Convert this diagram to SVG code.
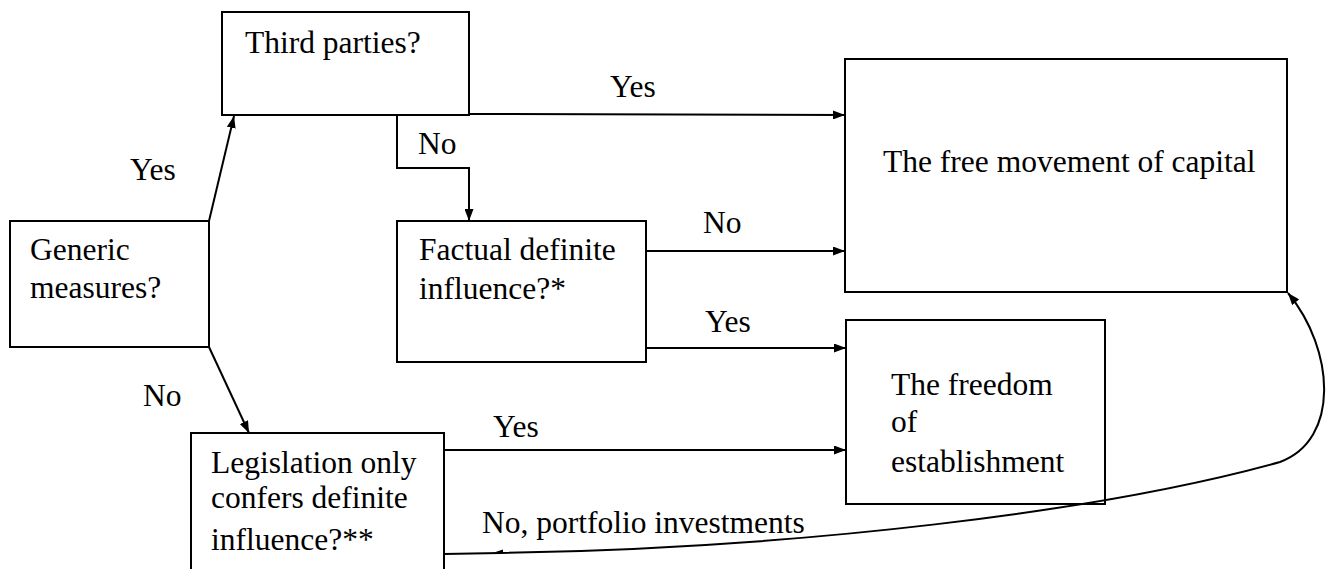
<svg xmlns="http://www.w3.org/2000/svg" width="1327" height="569" viewBox="0 0 1327 569">
<style>
.box{fill:#fff;stroke:#000;stroke-width:2}
.c{fill:none;stroke:#000;stroke-width:2}
</style>
<defs>
<marker id="ah" viewBox="0 0 12 9" refX="12" refY="4.5" markerWidth="12" markerHeight="9" markerUnits="userSpaceOnUse" orient="auto">
<path d="M0,0 L12,4.5 L0,9 Z" fill="#000"/>
</marker>
</defs>
<rect width="1327" height="569" fill="#fff"/>
<g font-family="'Liberation Serif', 'Times New Roman', serif" font-size="31.5" fill="#000">
<g id="third-parties"><rect class="box" x="222" y="12" width="247" height="103"/><text x="245" y="53">Third parties?</text></g>
<g id="generic"><rect class="box" x="10" y="221" width="199" height="126"/><text x="30" y="260">Generic</text><text x="30" y="298">measures?</text></g>
<g id="factual"><rect class="box" x="397" y="221" width="249" height="141"/><text x="419" y="260">Factual definite</text><text x="419" y="299">influence?*</text></g>
<g id="legislation"><rect class="box" x="191" y="433" width="253" height="145"/><text x="211" y="473">Legislation only</text><text x="211" y="508">confers definite</text><text x="211" y="550">influence?**</text></g>
<g id="capital"><rect class="box" x="845" y="59" width="442" height="233"/><text x="883" y="172">The free movement of capital</text></g>
<g id="establishment"><rect class="box" x="846" y="320" width="259" height="184"/><text x="891" y="395">The freedom</text><text x="891" y="432">of</text><text x="891" y="472">establishment</text></g>
<g id="connectors">
<line class="c" x1="209" y1="221" x2="234" y2="116" marker-end="url(#ah)"/>
<line class="c" x1="209" y1="347" x2="249" y2="433" marker-end="url(#ah)"/>
<polyline class="c" points="397,115 397,168 469,168 469,221" marker-end="url(#ah)"/>
<line class="c" x1="469" y1="114" x2="845" y2="115" marker-end="url(#ah)"/>
<line class="c" x1="646" y1="251" x2="845" y2="251" marker-end="url(#ah)"/>
<line class="c" x1="646" y1="348" x2="846" y2="348" marker-end="url(#ah)"/>
<line class="c" x1="444" y1="450" x2="846" y2="450" marker-end="url(#ah)"/>
<path class="c" d="M444,554 L500,553 C800,548 1100,512 1280,462 C1340,440 1335,350 1288,293" marker-end="url(#ah)"/>
<path d="M494,552.5 L503,549.5 L503,553 Z" fill="#000"/>
<text x="130" y="180">Yes</text>
<text x="418" y="154">No</text>
<text x="610" y="97">Yes</text>
<text x="703" y="233">No</text>
<text x="705" y="332">Yes</text>
<text x="143" y="406">No</text>
<text x="493" y="437">Yes</text>
<text x="482" y="533">No, portfolio investments</text>
</g>
</g>
</svg>
